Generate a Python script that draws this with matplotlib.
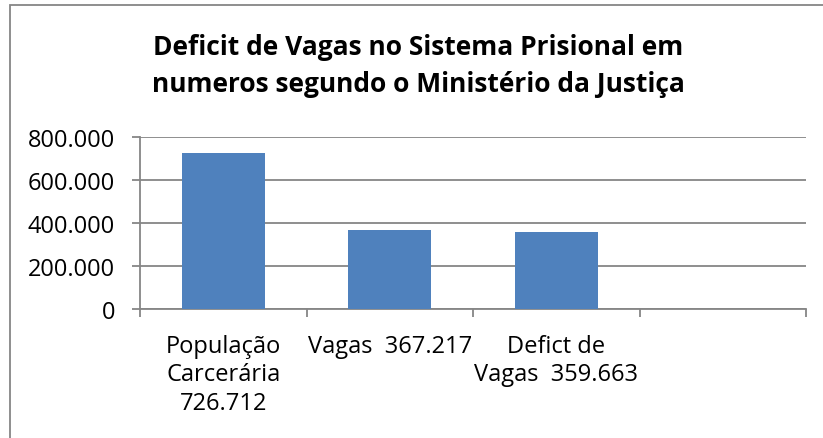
import matplotlib.pyplot as plt
from matplotlib.patches import Rectangle
from matplotlib.ticker import FuncFormatter

categories = ['População\nCarcerária\n726.712', 'Vagas  367.217', 'Defict de\nVagas  359.663', '']
values = [726712, 367217, 359663]
yticks = [0, 200000, 400000, 600000, 800000]

plt.rcParams['font.family'] = ['Open Sans', 'DejaVu Sans']

fig = plt.figure(figsize=(8.23, 4.39), dpi=100)
ax = fig.add_axes([140 / 823, 1 - 310 / 439, 666 / 823, 172 / 439])

grid_color = '#868686'
ax.bar(range(len(values)), values, width=0.5, color='#4f81bd', zorder=3)

ax.set_xlim(-0.5, len(categories) - 0.5)
ax.set_ylim(0, 800000)
ax.set_yticks(yticks)
ax.yaxis.set_major_formatter(FuncFormatter(lambda v, p: f'{int(v):,}'.replace(',', '.')))
ax.yaxis.grid(True, color=grid_color, linewidth=1.3, zorder=0)

# category boundaries as ticks, labels in the middle
ax.set_xticks([i - 0.5 for i in range(len(categories) + 1)])
ax.set_xticklabels([])
ax.set_xticks(range(len(categories)), minor=True)
ax.set_xticklabels(categories, minor=True, fontsize=17, linespacing=1.25, va='top')
ax.tick_params(axis='x', which='major', length=6, color=grid_color, width=1.3, direction='out')
ax.tick_params(axis='x', which='minor', length=0, pad=18)
ax.tick_params(axis='y', length=6, color=grid_color, width=1.3, labelsize=17, pad=12)

for s in ['top', 'right']:
    ax.spines[s].set_visible(False)
for s in ['left', 'bottom']:
    ax.spines[s].set_color(grid_color)
    ax.spines[s].set_linewidth(1.3)

fig.text(418 / 823, 1 - 55 / 439, 'Deficit de Vagas no Sistema Prisional em',
         ha='center', va='baseline', fontsize=19, fontweight='bold')
fig.text(418 / 823, 1 - 92 / 439, 'numeros segundo o Ministério da Justiça',
         ha='center', va='baseline', fontsize=19, fontweight='bold')

fig.patches.append(Rectangle((10 / 823, -0.1), 2, 1.1 - 6 / 439, transform=fig.transFigure,
                             fill=False, edgecolor=grid_color, linewidth=1.3))

plt.savefig('out.png', dpi=100)
